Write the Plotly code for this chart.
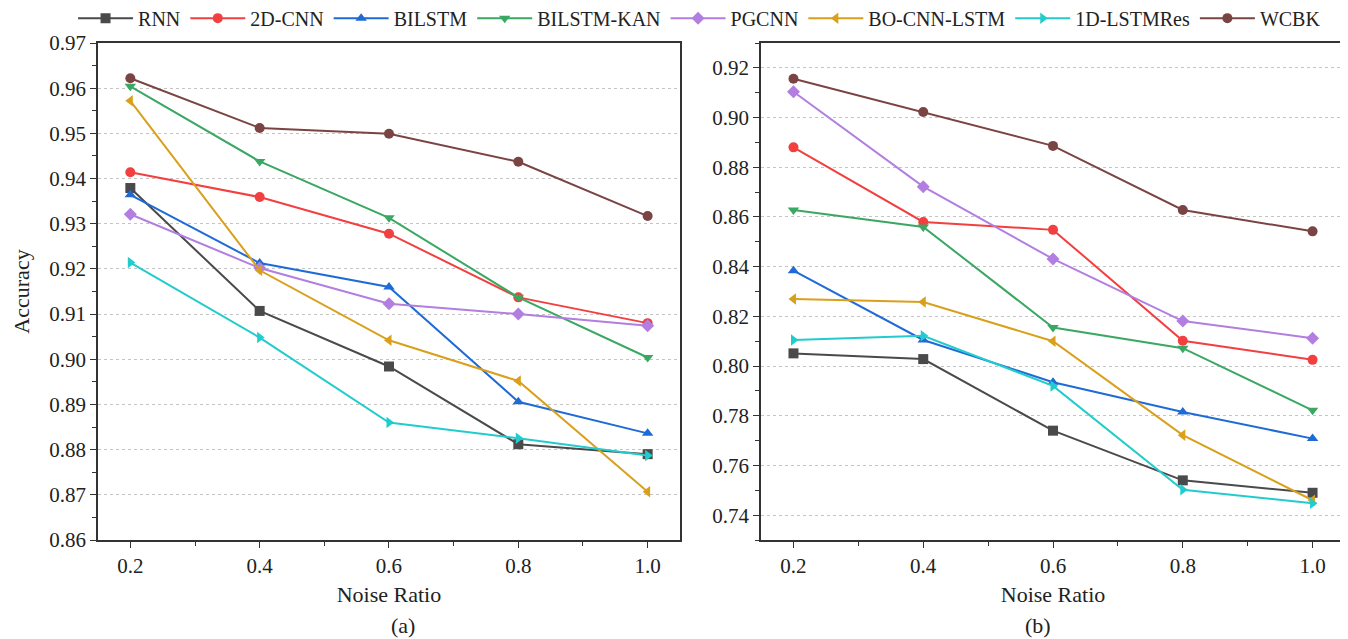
import plotly.graph_objects as go

noise = [0.2, 0.4, 0.6, 0.8, 1.0]
models = ["RNN", "2D-CNN", "BILSTM", "BILSTM-KAN", "PGCNN", "BO-CNN-LSTM", "1D-LSTMRes", "WCBK"]

acc_a = {
    "RNN":         [0.9379, 0.9107, 0.8984, 0.8812, 0.8790],
    "2D-CNN":      [0.9414, 0.9359, 0.9278, 0.9137, 0.9080],
    "BILSTM":      [0.9364, 0.9213, 0.9160, 0.8906, 0.8836],
    "BILSTM-KAN":  [0.9604, 0.9438, 0.9313, 0.9137, 0.9004],
    "PGCNN":       [0.9321, 0.9202, 0.9123, 0.9100, 0.9074],
    "BO-CNN-LSTM": [0.9572, 0.9197, 0.9042, 0.8952, 0.8707],
    "1D-LSTMRes":  [0.9214, 0.9048, 0.8860, 0.8825, 0.8787],
    "WCBK":        [0.9622, 0.9512, 0.9499, 0.9437, 0.9317],
}
acc_b = {
    "RNN":         [0.8051, 0.8028, 0.7740, 0.7540, 0.7490],
    "2D-CNN":      [0.8880, 0.8580, 0.8548, 0.8102, 0.8025],
    "BILSTM":      [0.8384, 0.8105, 0.7935, 0.7815, 0.7708],
    "BILSTM-KAN":  [0.8628, 0.8560, 0.8155, 0.8072, 0.7822],
    "PGCNN":       [0.9104, 0.8722, 0.8431, 0.8181, 0.8112],
    "BO-CNN-LSTM": [0.8270, 0.8258, 0.8100, 0.7722, 0.7460],
    "1D-LSTMRes":  [0.8105, 0.8122, 0.7920, 0.7502, 0.7448],
    "WCBK":        [0.9156, 0.9022, 0.8886, 0.8628, 0.8542],
}

colors = {
    "RNN": "#4a4a4a", "2D-CNN": "#f23f3f", "BILSTM": "#1f6bd6", "BILSTM-KAN": "#3aa862",
    "PGCNN": "#b27ee0", "BO-CNN-LSTM": "#d9a01c", "1D-LSTMRes": "#22cccc", "WCBK": "#7b4444",
}
symbols = {
    "RNN": "square", "2D-CNN": "circle", "BILSTM": "triangle-up", "BILSTM-KAN": "triangle-down",
    "PGCNN": "diamond", "BO-CNN-LSTM": "triangle-left", "1D-LSTMRes": "triangle-right", "WCBK": "circle",
}

FONT = "Liberation Serif, Times New Roman, serif"
fig = go.Figure()

for m in models:
    fig.add_trace(go.Scatter(x=noise, y=acc_a[m], name=m, mode="lines+markers",
                             line=dict(color=colors[m], width=2),
                             marker=dict(symbol=symbols[m], size=10, color=colors[m]),
                             xaxis="x", yaxis="y", legendgroup=m))
for m in models:
    fig.add_trace(go.Scatter(x=noise, y=acc_b[m], name=m, mode="lines+markers",
                             line=dict(color=colors[m], width=2),
                             marker=dict(symbol=symbols[m], size=10, color=colors[m]),
                             xaxis="x2", yaxis="y2", legendgroup=m, showlegend=False))

axis_common = dict(showline=True, linecolor="#333333", linewidth=1.5, mirror=True,
                   ticks="outside", ticklen=6, tickwidth=1.3, tickcolor="#333333",
                   tickfont=dict(family=FONT, size=21, color="#222"), zeroline=False)

xcommon = dict(axis_common, range=[0.15, 1.05], tickvals=noise,
               ticktext=["0.2", "0.4", "0.6", "0.8", "1.0"], showgrid=False,
               minor=dict(tickvals=[0.3, 0.5, 0.7, 0.9], ticklen=4, tickcolor="#333333", ticks="outside"),
               title=dict(text="Noise Ratio", font=dict(family=FONT, size=22, color="#222"), standoff=10))

fig.update_layout(
    width=1348, height=639,
    margin=dict(l=90, r=11, t=35, b=107, autoexpand=False),
    paper_bgcolor="white", plot_bgcolor="white",
    font=dict(family=FONT, size=20, color="#222"),
    xaxis=dict(xcommon, domain=[0, 0.4667], anchor="y"),
    xaxis2=dict(xcommon, domain=[0.5317, 1.0], anchor="y2"),
    yaxis=dict(axis_common, range=[0.86, 0.97], dtick=0.01, tick0=0.86, tickformat=".2f",
               showgrid=True, gridcolor="#c4c4c4", griddash="dot", gridwidth=1,
               minor=dict(dtick=0.005, tick0=0.86, ticklen=4, tickcolor="#333333", ticks="outside", showgrid=False),
               title=dict(text="Accuracy", font=dict(family=FONT, size=22, color="#222"), standoff=14),
               anchor="x"),
    yaxis2=dict(axis_common, range=[0.73, 0.93], dtick=0.02, tick0=0.74, tickformat=".2f",
                showgrid=True, gridcolor="#c4c4c4", griddash="dot", gridwidth=1,
                minor=dict(dtick=0.01, tick0=0.73, ticklen=4, tickcolor="#333333", ticks="outside", showgrid=False),
                anchor="x2"),
    legend=dict(orientation="h", x=-0.02, xanchor="left", y=1.05, yanchor="middle",
                font=dict(family=FONT, size=20, color="#222"), itemwidth=55,
                tracegroupgap=0, bgcolor="rgba(0,0,0,0)"),
    showlegend=True,
    annotations=[
        dict(text="(a)", xref="paper", yref="paper", x=0.2333, y=-0.172, yanchor="middle", showarrow=False,
             font=dict(family=FONT, size=22, color="#222")),
        dict(text="(b)", xref="paper", yref="paper", x=0.766, y=-0.172, yanchor="middle", showarrow=False,
             font=dict(family=FONT, size=22, color="#222")),
    ],
)

fig.write_html("out.html")
